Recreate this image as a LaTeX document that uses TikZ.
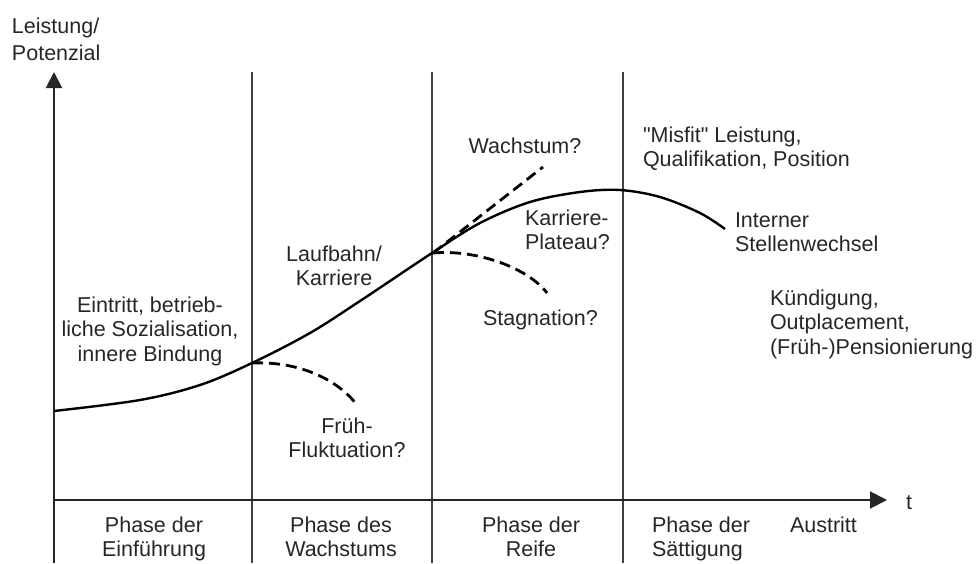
\documentclass[tikz,border=0pt]{standalone}
\usepackage{fontspec}
\setmainfont{Liberation Sans}[Ligatures=TeXOff]
\usetikzlibrary{arrows.meta}
\begin{document}
\begin{tikzpicture}[x=1pt,y=-1pt,
  lbl/.style={inner sep=0pt, outer sep=0pt, text=black!85, font=\fontsize{21.5}{24.5}\selectfont},
  axisline/.style={line width=2pt, draw=black!85},
  phaseline/.style={line width=1.4pt, draw=black!75},
  mainc/.style={line width=2.4pt, draw=black},
  dashc/.style={line width=2.8pt, draw=black, dash pattern=on 11pt off 6pt}]
\useasboundingbox (0,0) rectangle (979,563);
% coordinates
\coordinate (O) at (54,500);
\coordinate (Ybot) at (54,563);
\coordinate (Ytop) at (54,72);
\coordinate (Xend) at (887,500);
\coordinate (L1t) at (252,72);  \coordinate (L1b) at (252,563);
\coordinate (L2t) at (432,72);  \coordinate (L2b) at (432,563);
\coordinate (L3t) at (623,72);  \coordinate (L3b) at (623,563);
\coordinate (P1) at (252,363);
\coordinate (P2) at (433,253);
\coordinate (F1) at (357,405);
\coordinate (S1) at (547,293);
\coordinate (W1) at (543,167);
% phase lines
\draw[phaseline] (L1t) -- (L1b);
\draw[phaseline] (L2t) -- (L2b);
\draw[phaseline] (L3t) -- (L3b);
% axes
\draw[axisline] (Ybot) -- (O);
\draw[axisline, -{Triangle[length=16pt,width=16pt]}] (O) -- (Ytop);
\draw[axisline, -{Triangle[length=17pt,width=17pt]}] (O) -- (Xend);
% main curve
\draw[mainc] plot[smooth, tension=0.55] coordinates {(54,411) (140,400) (200,385) (252,363) (310,333) (360,301) (432,253) (480,223) (530,202) (580,192) (620,190) (660,197) (700,213) (725,229)};
% dashed alternatives
\draw[dashc] (P1) .. controls (300,361) and (338,380) .. (F1);
\draw[dashc] (P2) .. controls (480,249) and (530,270) .. (S1);
\draw[dashc] (P2) -- (W1);
% labels
\node[lbl, anchor=north west, align=left] (leist) at (12,17.5) {Leistung/\\[2.5pt]Potenzial};
\node[lbl, anchor=base west] (t) at (906,509) {t};
\node[lbl, anchor=north, align=center] (eint) at (150,296.5) {Eintritt, betrieb-\\liche Sozialisation,\\innere Bindung};
\node[lbl, anchor=north, align=center] (lauf) at (334,245.5) {Laufbahn/\\Karriere};
\node[lbl, anchor=north, align=center] (frueh) at (347,417.5) {Früh-\\Fluktuation?};
\node[lbl, anchor=north] (wachs) at (525,137.5) {Wachstum?};
\node[lbl, anchor=north west, align=left] (plat) at (525,209.5) {Karriere-\\Plateau?};
\node[lbl, anchor=north west] (stag) at (483,309.5) {Stagnation?};
\node[lbl, anchor=north west, align=left] (misfit) at (643,126.5) {"Misfit" Leistung,\\Qualifikation, Position};
\node[lbl, anchor=north west, align=left] (intern) at (735,212.5) {Interner\\Stellenwechsel};
\node[lbl, anchor=north west, align=left] (kuend) at (770,289.5) {Kündigung,\\Outplacement,\\(Früh-)Pensionierung};
\node[lbl, anchor=north, align=center] (ph1) at (154,516.5) {Phase der\\Einführung};
\node[lbl, anchor=north, align=center] (ph2) at (341,516.5) {Phase des\\Wachstums};
\node[lbl, anchor=north, align=center] (ph3) at (531,516.5) {Phase der\\Reife};
\node[lbl, anchor=north west, align=left] (ph4) at (652,516.5) {Phase der\\Sättigung};
\node[lbl, anchor=north west] (aus) at (790,516.5) {Austritt};
\end{tikzpicture}
\end{document}
